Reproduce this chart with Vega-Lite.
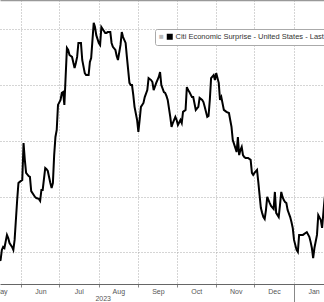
{
  "$schema": "https://vega.github.io/schema/vega-lite/v6.json",
  "width": 324,
  "height": 284,
  "autosize": {"type": "none"},
  "padding": {"left": 0, "top": 0, "right": 0, "bottom": 18},
  "background": "white",
  "config": {"view": {"stroke": null}, "font": "Liberation Sans"},
  "data": {"values": [
    {"date": "2023-05-14", "value": -3.0},
    {"date": "2023-05-16", "value": -2.7},
    {"date": "2023-05-17", "value": 0.9},
    {"date": "2023-05-18", "value": 2.0},
    {"date": "2023-05-19", "value": 1.6},
    {"date": "2023-05-21", "value": 6.3},
    {"date": "2023-05-22", "value": 5.2},
    {"date": "2023-05-23", "value": 3.4},
    {"date": "2023-05-25", "value": 2.0},
    {"date": "2023-05-26", "value": 0.9},
    {"date": "2023-05-27", "value": 4.5},
    {"date": "2023-05-29", "value": 18.8},
    {"date": "2023-05-30", "value": 24.9},
    {"date": "2023-05-31", "value": 25.3},
    {"date": "2023-06-02", "value": 26.0},
    {"date": "2023-06-03", "value": 39.2},
    {"date": "2023-06-04", "value": 33.2},
    {"date": "2023-06-05", "value": 28.5},
    {"date": "2023-06-07", "value": 27.4},
    {"date": "2023-06-08", "value": 27.1},
    {"date": "2023-06-09", "value": 22.0},
    {"date": "2023-06-11", "value": 20.6},
    {"date": "2023-06-12", "value": 19.9},
    {"date": "2023-06-13", "value": 19.5},
    {"date": "2023-06-15", "value": 19.2},
    {"date": "2023-06-16", "value": 18.5},
    {"date": "2023-06-17", "value": 22.4},
    {"date": "2023-06-18", "value": 22.4},
    {"date": "2023-06-20", "value": 30.3},
    {"date": "2023-06-21", "value": 29.9},
    {"date": "2023-06-22", "value": 29.2},
    {"date": "2023-06-24", "value": 24.9},
    {"date": "2023-06-25", "value": 23.1},
    {"date": "2023-06-26", "value": 24.9},
    {"date": "2023-06-27", "value": 34.9},
    {"date": "2023-06-28", "value": 41.4},
    {"date": "2023-06-29", "value": 43.9},
    {"date": "2023-06-30", "value": 52.9},
    {"date": "2023-07-02", "value": 54.7},
    {"date": "2023-07-03", "value": 57.2},
    {"date": "2023-07-04", "value": 57.5},
    {"date": "2023-07-05", "value": 52.9},
    {"date": "2023-07-07", "value": 73.3},
    {"date": "2023-07-08", "value": 72.6},
    {"date": "2023-07-09", "value": 70.8},
    {"date": "2023-07-11", "value": 70.1},
    {"date": "2023-07-13", "value": 66.1},
    {"date": "2023-07-14", "value": 67.9},
    {"date": "2023-07-15", "value": 70.1},
    {"date": "2023-07-16", "value": 75.1},
    {"date": "2023-07-18", "value": 75.1},
    {"date": "2023-07-19", "value": 69.0},
    {"date": "2023-07-21", "value": 64.3},
    {"date": "2023-07-22", "value": 63.6},
    {"date": "2023-07-24", "value": 63.6},
    {"date": "2023-07-25", "value": 68.3},
    {"date": "2023-07-26", "value": 69.7},
    {"date": "2023-07-28", "value": 82.3},
    {"date": "2023-07-29", "value": 80.8},
    {"date": "2023-07-30", "value": 77.9},
    {"date": "2023-08-01", "value": 75.1},
    {"date": "2023-08-02", "value": 74.4},
    {"date": "2023-08-03", "value": 80.8},
    {"date": "2023-08-05", "value": 79.4},
    {"date": "2023-08-06", "value": 78.7},
    {"date": "2023-08-07", "value": 78.7},
    {"date": "2023-08-08", "value": 79.0},
    {"date": "2023-08-10", "value": 79.0},
    {"date": "2023-08-11", "value": 75.1},
    {"date": "2023-08-12", "value": 73.7},
    {"date": "2023-08-14", "value": 72.6},
    {"date": "2023-08-15", "value": 70.4},
    {"date": "2023-08-16", "value": 69.0},
    {"date": "2023-08-18", "value": 74.4},
    {"date": "2023-08-19", "value": 79.0},
    {"date": "2023-08-20", "value": 77.2},
    {"date": "2023-08-22", "value": 75.1},
    {"date": "2023-08-23", "value": 70.1},
    {"date": "2023-08-25", "value": 60.8},
    {"date": "2023-08-26", "value": 60.0},
    {"date": "2023-08-27", "value": 60.0},
    {"date": "2023-08-28", "value": 56.5},
    {"date": "2023-08-29", "value": 52.2},
    {"date": "2023-08-31", "value": 47.5},
    {"date": "2023-09-01", "value": 43.2},
    {"date": "2023-09-02", "value": 47.5},
    {"date": "2023-09-03", "value": 52.2},
    {"date": "2023-09-05", "value": 53.6},
    {"date": "2023-09-06", "value": 55.7},
    {"date": "2023-09-08", "value": 58.2},
    {"date": "2023-09-09", "value": 62.5},
    {"date": "2023-09-11", "value": 61.8},
    {"date": "2023-09-12", "value": 61.1},
    {"date": "2023-09-13", "value": 58.2},
    {"date": "2023-09-15", "value": 60.8},
    {"date": "2023-09-17", "value": 62.9},
    {"date": "2023-09-18", "value": 64.7},
    {"date": "2023-09-19", "value": 60.0},
    {"date": "2023-09-21", "value": 57.5},
    {"date": "2023-09-22", "value": 57.2},
    {"date": "2023-09-23", "value": 56.1},
    {"date": "2023-09-24", "value": 54.7},
    {"date": "2023-09-26", "value": 48.6},
    {"date": "2023-09-27", "value": 45.0},
    {"date": "2023-09-28", "value": 46.4},
    {"date": "2023-09-30", "value": 48.6},
    {"date": "2023-10-01", "value": 47.5},
    {"date": "2023-10-02", "value": 45.7},
    {"date": "2023-10-04", "value": 47.5},
    {"date": "2023-10-05", "value": 46.4},
    {"date": "2023-10-06", "value": 50.4},
    {"date": "2023-10-08", "value": 51.1},
    {"date": "2023-10-09", "value": 59.3},
    {"date": "2023-10-10", "value": 58.2},
    {"date": "2023-10-11", "value": 57.5},
    {"date": "2023-10-13", "value": 55.7},
    {"date": "2023-10-14", "value": 55.7},
    {"date": "2023-10-16", "value": 51.1},
    {"date": "2023-10-18", "value": 52.2},
    {"date": "2023-10-19", "value": 55.4},
    {"date": "2023-10-21", "value": 54.7},
    {"date": "2023-10-22", "value": 53.9},
    {"date": "2023-10-23", "value": 52.2},
    {"date": "2023-10-25", "value": 48.6},
    {"date": "2023-10-26", "value": 48.9},
    {"date": "2023-10-27", "value": 54.7},
    {"date": "2023-10-28", "value": 62.5},
    {"date": "2023-10-30", "value": 63.6},
    {"date": "2023-10-31", "value": 61.8},
    {"date": "2023-11-01", "value": 64.3},
    {"date": "2023-11-03", "value": 60.8},
    {"date": "2023-11-04", "value": 54.7},
    {"date": "2023-11-05", "value": 55.7},
    {"date": "2023-11-07", "value": 51.1},
    {"date": "2023-11-09", "value": 50.4},
    {"date": "2023-11-11", "value": 50.0},
    {"date": "2023-11-12", "value": 47.5},
    {"date": "2023-11-13", "value": 45.0},
    {"date": "2023-11-14", "value": 40.3},
    {"date": "2023-11-16", "value": 37.5},
    {"date": "2023-11-17", "value": 36.0},
    {"date": "2023-11-18", "value": 41.4},
    {"date": "2023-11-19", "value": 34.9},
    {"date": "2023-11-20", "value": 36.7},
    {"date": "2023-11-21", "value": 37.8},
    {"date": "2023-11-22", "value": 34.9},
    {"date": "2023-11-23", "value": 34.2},
    {"date": "2023-11-24", "value": 33.9},
    {"date": "2023-11-26", "value": 33.9},
    {"date": "2023-11-28", "value": 33.2},
    {"date": "2023-11-29", "value": 28.5},
    {"date": "2023-11-30", "value": 27.8},
    {"date": "2023-12-01", "value": 28.5},
    {"date": "2023-12-03", "value": 29.6},
    {"date": "2023-12-04", "value": 25.3},
    {"date": "2023-12-05", "value": 20.6},
    {"date": "2023-12-06", "value": 16.0},
    {"date": "2023-12-07", "value": 14.2},
    {"date": "2023-12-08", "value": 12.7},
    {"date": "2023-12-09", "value": 12.0},
    {"date": "2023-12-10", "value": 15.2},
    {"date": "2023-12-11", "value": 19.9},
    {"date": "2023-12-12", "value": 18.8},
    {"date": "2023-12-13", "value": 17.7},
    {"date": "2023-12-14", "value": 16.7},
    {"date": "2023-12-16", "value": 15.6},
    {"date": "2023-12-17", "value": 21.7},
    {"date": "2023-12-18", "value": 14.2},
    {"date": "2023-12-20", "value": 12.7},
    {"date": "2023-12-21", "value": 17.0},
    {"date": "2023-12-22", "value": 21.7},
    {"date": "2023-12-23", "value": 19.9},
    {"date": "2023-12-24", "value": 18.8},
    {"date": "2023-12-25", "value": 18.1},
    {"date": "2023-12-26", "value": 17.7},
    {"date": "2023-12-27", "value": 15.2},
    {"date": "2023-12-29", "value": 12.7},
    {"date": "2023-12-30", "value": 10.9},
    {"date": "2023-12-31", "value": 8.8},
    {"date": "2024-01-01", "value": 4.5},
    {"date": "2024-01-03", "value": 0.9},
    {"date": "2024-01-04", "value": 0.2},
    {"date": "2024-01-05", "value": 6.3},
    {"date": "2024-01-07", "value": 6.3},
    {"date": "2024-01-08", "value": 6.3},
    {"date": "2024-01-10", "value": 7.0},
    {"date": "2024-01-11", "value": 7.3},
    {"date": "2024-01-13", "value": 5.6},
    {"date": "2024-01-14", "value": 3.8},
    {"date": "2024-01-15", "value": 1.6},
    {"date": "2024-01-16", "value": -2.0},
    {"date": "2024-01-17", "value": 1.6},
    {"date": "2024-01-19", "value": 6.3},
    {"date": "2024-01-20", "value": 13.4},
    {"date": "2024-01-22", "value": 11.6},
    {"date": "2024-01-23", "value": 8.8},
    {"date": "2024-01-25", "value": 19.5},
    {"date": "2024-01-26", "value": 22.4}
  ]},
  "layer": [
    {
      "mark": {"type": "line", "color": "black", "strokeWidth": 2, "clip": true},
      "encoding": {
        "x": {
          "field": "date", "type": "temporal",
          "scale": {"type": "utc", "domain": [
            {"year": 2023, "month": 5, "date": 15, "hours": 13, "utc": true},
            {"year": 2024, "month": 1, "date": 24, "hours": 12, "utc": true}
          ]},
          "axis": {
            "orient": "bottom",
            "values": [
              {"year": 2023, "month": 6, "date": 1, "utc": true},
              {"year": 2023, "month": 7, "date": 1, "utc": true},
              {"year": 2023, "month": 8, "date": 1, "utc": true},
              {"year": 2023, "month": 9, "date": 1, "utc": true},
              {"year": 2023, "month": 10, "date": 1, "utc": true},
              {"year": 2023, "month": 11, "date": 1, "utc": true},
              {"year": 2023, "month": 12, "date": 1, "utc": true},
              {"year": 2024, "month": 1, "date": 1, "utc": true}
            ],
            "format": "%b",
            "labelOffset": 19.5,
            "labelAlign": "center",
            "labelBound": false,
            "labelFlush": false,
            "labelOverlap": false,
            "labelFontSize": 7,
            "labelColor": "#555",
            "labelPadding": {"condition": {"test": "utcmonth(datum.value) == 0", "value": -15}, "value": 0},
            "tickSize": {"condition": {"test": "utcmonth(datum.value) == 0", "value": 18}, "value": 3},
            "tickColor": "#888",
            "domainColor": "#666",
            "domainWidth": 1,
            "grid": true,
            "gridColor": "#aaa",
            "gridDash": [1, 2],
            "gridWidth": 1,
            "title": "2023",
            "titleX": 102.7,
            "titleY": 14,
            "titleAlign": "center",
            "titleBaseline": "middle",
            "titleFontSize": 7,
            "titleFontWeight": "normal",
            "titleColor": "#555"
          }
        },
        "y": {
          "field": "value", "type": "quantitative",
          "scale": {"domain": [-11.3, 90.5], "nice": false, "zero": false},
          "axis": {
            "values": [0, 20, 40, 60, 80],
            "labels": false, "ticks": false, "domain": false,
            "grid": true, "gridColor": "#aaa", "gridDash": [1, 2], "gridWidth": 1,
            "title": null
          }
        },
        "color": {
          "datum": "Citi Economic Surprise - United States - Last",
          "type": "nominal",
          "scale": {"range": ["black"]},
          "legend": {
            "orient": "none",
            "legendX": 155,
            "legendY": 29,
            "title": "■",
            "titleOrient": "left",
            "titleColor": "#bbb",
            "titleFontSize": 8,
            "titleFontWeight": "normal",
            "titlePadding": 2,
            "padding": 4,
            "strokeColor": "#aaa",
            "fillColor": "white",
            "cornerRadius": 2,
            "symbolType": "square",
            "symbolSize": 36,
            "symbolFillColor": "black",
            "symbolStrokeColor": "black",
            "symbolStrokeWidth": 0,
            "labelFontSize": 7.5,
            "labelColor": "#333",
            "labelLimit": 0,
            "labelOffset": 2
          }
        }
      }
    },
    {
      "mark": {"type": "line", "opacity": 0},
      "encoding": {
        "x": {
          "field": "date", "type": "temporal",
          "axis": {
            "orient": "bottom",
            "values": [{"year": 2023, "month": 6, "date": 1, "utc": true}],
            "labelExpr": "'May'",
            "labelOffset": -20.5,
            "labelAlign": "center",
            "labelBound": false,
            "labelFlush": false,
            "labelOverlap": false,
            "labelFontSize": 7,
            "labelColor": "#555",
            "labelPadding": 0,
            "tickSize": 3,
            "ticks": true,
            "tickOpacity": 0,
            "domain": false,
            "grid": false,
            "title": null
          }
        },
        "y": {
          "field": "value", "type": "quantitative",
          "axis": {
            "values": [0, 20, 40, 60, 80],
            "labels": false, "ticks": false, "domain": false,
            "grid": true, "gridColor": "#aaa", "gridDash": [1, 2], "gridWidth": 1,
            "title": null
          }
        }
      }
    },
    {
      "mark": {"type": "line", "opacity": 0},
      "encoding": {
        "x": {
          "field": "date", "type": "temporal",
          "axis": {"orient": "top", "labels": false, "ticks": false, "grid": false, "domain": true, "domainColor": "#999", "domainWidth": 1.5, "title": null}
        },
        "y": {
          "field": "value", "type": "quantitative",
          "axis": {
            "values": [0, 20, 40, 60, 80],
            "labels": false, "ticks": false, "domain": false,
            "grid": true, "gridColor": "#aaa", "gridDash": [1, 2], "gridWidth": 1,
            "title": null
          }
        }
      }
    }
  ],
  "resolve": {"axis": {"x": "independent"}}
}
